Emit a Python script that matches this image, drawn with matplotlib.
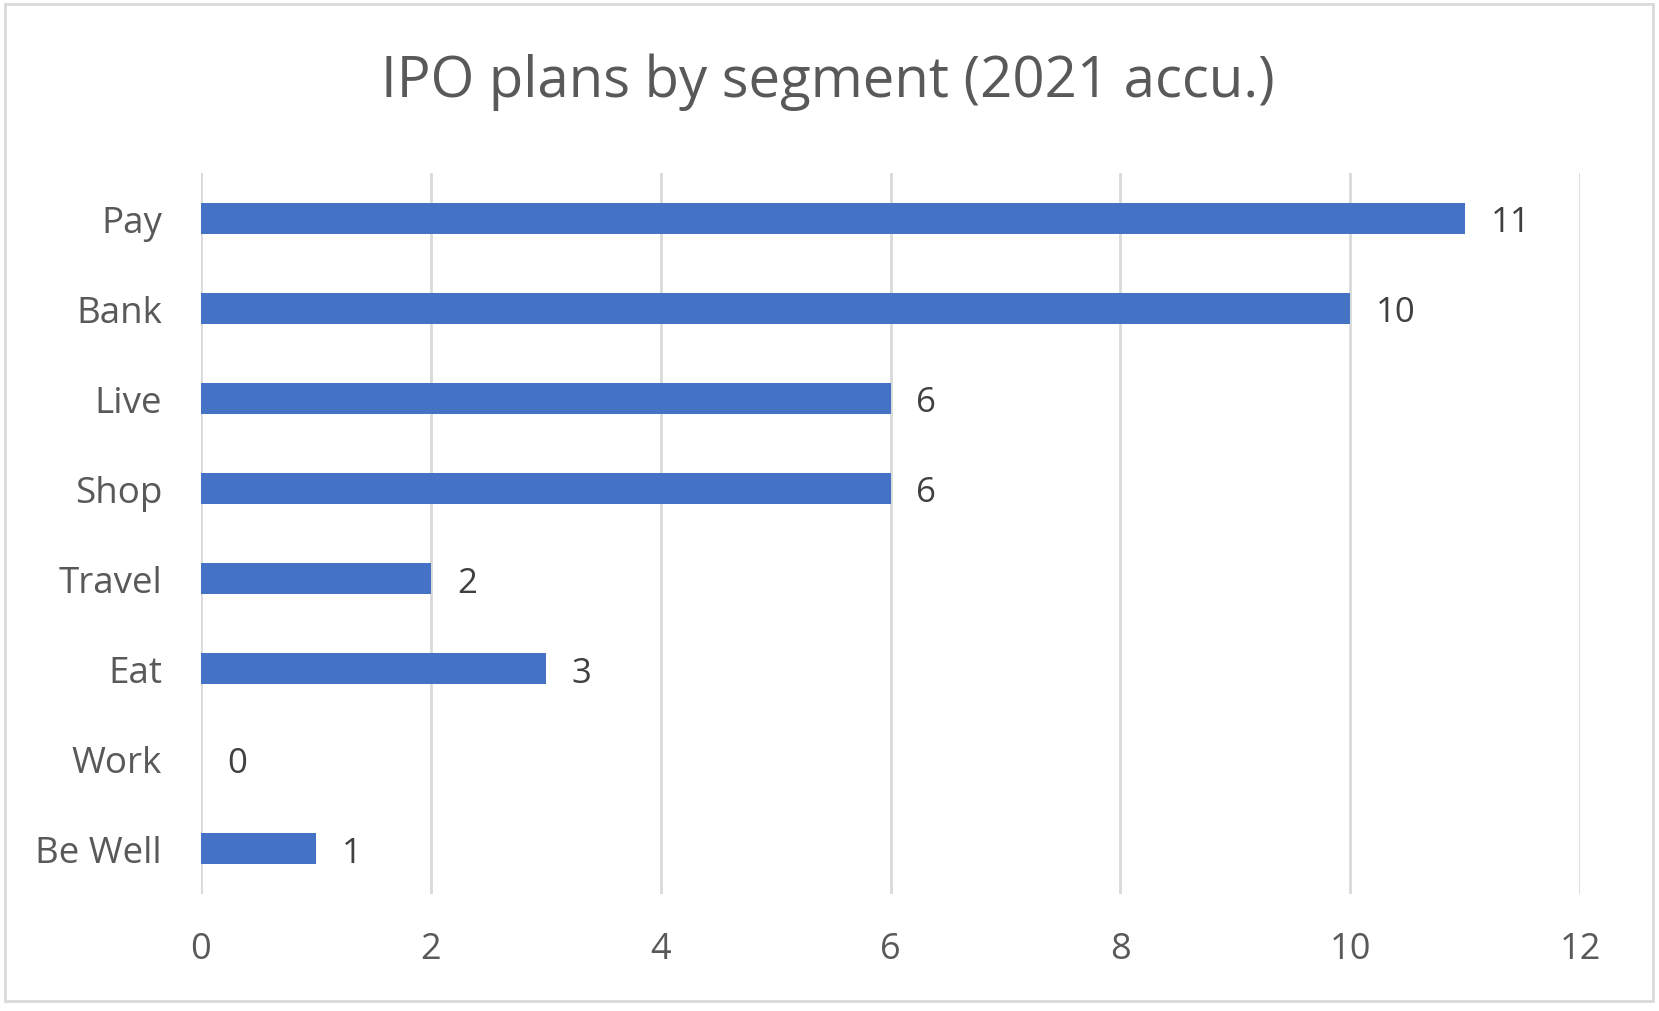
import matplotlib
matplotlib.use("Agg")
from matplotlib import pyplot as plt
from matplotlib.patches import Rectangle

# data, top to bottom as shown
segments = ["Pay", "Bank", "Live", "Shop", "Travel", "Eat", "Work", "Be Well"]
ipo_plans = [11, 10, 6, 6, 2, 3, 0, 1]
x_ticks = [0, 2, 4, 6, 8, 10, 12]

plt.rcParams['font.family'] = ['Open Sans', 'DejaVu Sans']

fig = plt.figure(figsize=(16.59, 10.12), dpi=100)
ax = fig.add_axes([201/1659, 1-895/1012, (1580-201)/1659, (895-174)/1012])

ypos = list(range(len(segments)))
ax.barh(ypos, ipo_plans, height=0.345, color="#4472C4", zorder=3)

for y, v in zip(ypos, ipo_plans):
    ax.annotate(str(v), (v, y), xytext=(26, -4), textcoords="offset pixels",
                ha="left", va="center", fontsize=25, color="#404040")

ax.set_ylim(len(segments) - 0.5, -0.5)
ax.set_xlim(0, 12)
ax.set_yticks(ypos)
ax.set_yticklabels(segments)
ax.set_xticks(x_ticks)
ax.tick_params(axis="y", length=0, pad=28, labelsize=26.5, labelcolor="#595959")
ax.tick_params(axis="x", length=0, pad=27, labelsize=26, labelcolor="#595959")
ax.grid(axis="x", color="#D9D9D9", linewidth=2, zorder=0)
for s in ax.spines.values():
    s.set_visible(False)

fig.text(828/1659, 1-82/1012, "IPO plans by segment (2021 accu.)", ha="center", va="center",
         fontsize=40.5, color="#595959")

# chart border
fig.patches.append(Rectangle((5/1659, 1-1002/1012), 1648/1659, 997/1012, transform=fig.transFigure,
                             fill=False, edgecolor="#D9D9D9", linewidth=2))

fig.savefig("out.png", dpi=100)
